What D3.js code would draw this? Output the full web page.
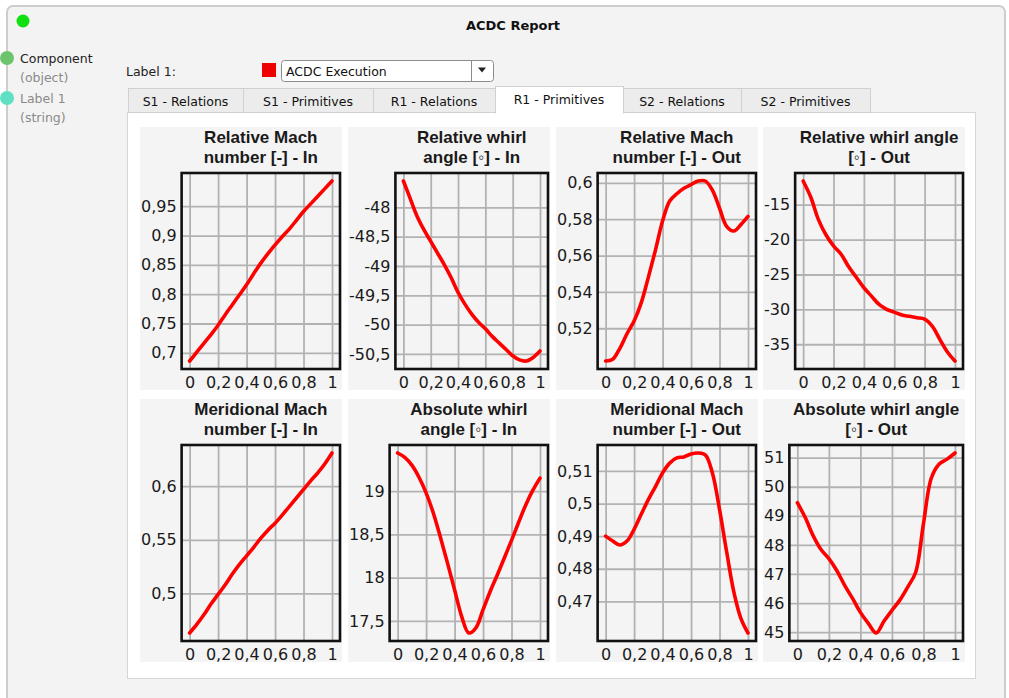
<!DOCTYPE html>
<html>
<head>
<meta charset="utf-8">
<script src="https://cdn.jsdelivr.net/npm/d3@7"></script>
<style>
  body { margin: 0; background: #fff; }
  svg { display: block; }
</style>
</head>
<body>
<div id="chart"></div>
<script>
// sample positions along the span (0 = hub, 1 = tip)
const xPos = [0, 0.05, 0.1, 0.15, 0.2, 0.25, 0.3, 0.35, 0.4, 0.45, 0.5,
              0.55, 0.6, 0.65, 0.7, 0.75, 0.8, 0.85, 0.9, 0.95, 1];
const xTicks = [0, 0.2, 0.4, 0.6, 0.8, 1];

// series values
const relMachIn = [0.686, 0.701, 0.716, 0.731, 0.747, 0.765, 0.782, 0.799, 0.816, 0.835, 0.853,
                   0.869, 0.884, 0.898, 0.911, 0.926, 0.941, 0.954, 0.967, 0.98, 0.993];
const relWhirlIn = [-47.55, -47.85, -48.15, -48.38, -48.58, -48.78, -48.98, -49.2, -49.45, -49.65, -49.82,
                    -49.96, -50.07, -50.2, -50.31, -50.42, -50.53, -50.6, -50.62, -50.56, -50.45];
const relMachOut = [0.502, 0.503, 0.509, 0.517, 0.524, 0.534, 0.548, 0.563, 0.579, 0.59, 0.594,
                    0.597, 0.599, 0.601, 0.601, 0.596, 0.586, 0.576, 0.5735, 0.577, 0.5815];
const relWhirlOut = [-11.6, -13.9, -17.1, -19.3, -20.9, -22.1, -23.9, -25.4, -26.9, -28.1, -29.3,
                     -30, -30.4, -30.8, -31, -31.2, -31.4, -32.4, -34.3, -36.1, -37.4];
const merMachIn = [0.463, 0.471, 0.48, 0.49, 0.499, 0.508, 0.518, 0.527, 0.535, 0.543, 0.5515,
                   0.559, 0.5655, 0.573, 0.581, 0.589, 0.597, 0.605, 0.6125, 0.621, 0.631];
const absWhirlIn = [19.44, 19.39, 19.3, 19.16, 18.98, 18.75, 18.47, 18.17, 17.86, 17.55, 17.36,
                    17.42, 17.63, 17.84, 18.03, 18.23, 18.43, 18.64, 18.84, 19.01, 19.15];
const merMachOut = [0.49, 0.4885, 0.4873, 0.4885, 0.4921, 0.4967, 0.5012, 0.5052, 0.5094, 0.5124, 0.514,
                    0.5143, 0.5152, 0.5155, 0.5149, 0.5094, 0.4982, 0.4852, 0.473, 0.4648, 0.4603];
const absWhirlOut = [49.45, 48.94, 48.32, 47.84, 47.53, 47.12, 46.61, 46.16, 45.68, 45.3, 44.97,
                     45.38, 45.75, 46.1, 46.55, 47.05, 48.73, 50.3, 50.78, 50.95, 51.16];

const titles = [
  ["Relative Mach", "number [-] - In"],
  ["Relative whirl", "angle [◦] - In"],
  ["Relative Mach", "number [-] - Out"],
  ["Relative whirl angle", "[◦] - Out"],
  ["Meridional Mach", "number [-] - In"],
  ["Absolute whirl", "angle [◦] - In"],
  ["Meridional Mach", "number [-] - Out"],
  ["Absolute whirl angle", "[◦] - Out"]
];
const yTickSets = [
  [0.7, 0.75, 0.8, 0.85, 0.9, 0.95],
  [-48, -48.5, -49, -49.5, -50, -50.5],
  [0.52, 0.54, 0.56, 0.58, 0.6],
  [-15, -20, -25, -30, -35],
  [0.5, 0.55, 0.6],
  [17.5, 18, 18.5, 19],
  [0.47, 0.48, 0.49, 0.5, 0.51],
  [45, 46, 47, 48, 49, 50, 51]
];
const seriesList = [relMachIn, relWhirlIn, relMachOut, relWhirlOut,
                    merMachIn, absWhirlIn, merMachOut, absWhirlOut];

const tabNames = ["S1 - Relations", "S1 - Primitives", "R1 - Relations",
                  "R1 - Primitives", "S2 - Relations", "S2 - Primitives"];
const activeTab = "R1 - Primitives";

const uiFont = "DejaVu Sans, Verdana, sans-serif";
const tickFont = "16px DejaVu Sans, Verdana, sans-serif";
const titleFont = "bold 17px Liberation Sans, Arial, DejaVu Sans, sans-serif";
const fmt = v => String(v).replace(".", ",");

const svg = d3.select("#chart").append("svg")
  .attr("width", 1009)
  .attr("height", 698);

// node frame
svg.append("rect")
  .attr("x", 7).attr("y", 6).attr("width", 998).attr("height", 720).attr("rx", 6)
  .attr("fill", "#f3f3f3").attr("stroke", "#cdcdcd").attr("stroke-width", 2);

svg.append("circle").attr("cx", 23).attr("cy", 21).attr("r", 6.5).attr("fill", "#10e010");
svg.append("text").attr("x", 513).attr("y", 30).attr("text-anchor", "middle")
  .style("font", "bold 13px " + uiFont).attr("fill", "#111").text("ACDC Report");

// ports on the left
svg.append("circle").attr("cx", 7).attr("cy", 58).attr("r", 7).attr("fill", "#6cc56c");
svg.append("circle").attr("cx", 7).attr("cy", 98).attr("r", 7).attr("fill", "#5fe0c3");
const portText = [
  { t: "Component", y: 63, c: "#222" },
  { t: "(object)", y: 82, c: "#8a8a8a" },
  { t: "Label 1", y: 103, c: "#8a8a8a" },
  { t: "(string)", y: 122, c: "#8a8a8a" }
];
svg.selectAll("text.port").data(portText).enter().append("text")
  .attr("class", "port")
  .attr("x", 20).attr("y", d => d.y).attr("fill", d => d.c)
  .style("font", "12.5px " + uiFont).text(d => d.t);

// label + combo box
svg.append("text").attr("x", 126).attr("y", 76).style("font", "12.5px " + uiFont)
  .attr("fill", "#222").text("Label 1:");
svg.append("rect").attr("x", 262).attr("y", 63).attr("width", 14).attr("height", 14).attr("fill", "#ee0000");
svg.append("rect").attr("x", 281.5).attr("y", 60.5).attr("width", 212).attr("height", 21).attr("rx", 3)
  .attr("fill", "#fff").attr("stroke", "#8c8c8c");
svg.append("text").attr("x", 286).attr("y", 76).style("font", "12.5px " + uiFont)
  .attr("fill", "#111").text("ACDC Execution");
svg.append("line").attr("x1", 471.5).attr("x2", 471.5).attr("y1", 61).attr("y2", 81).attr("stroke", "#8c8c8c");
svg.append("path").attr("d", "M478,67.5L486,67.5L482,72.5Z").attr("fill", "#222");

// tab bar
const tabW = [115, 130, 122, 128, 118, 129];
let tx = 128;
const tabs = tabNames.map((name, k) => {
  const tab = { name, x: tx, w: tabW[k] };
  tx += tabW[k];
  return tab;
});

// content panel
svg.append("rect").attr("x", 127.5).attr("y", 112.5).attr("width", 848).attr("height", 566)
  .attr("fill", "#fff").attr("stroke", "#d6d6d6");

const tabG = svg.append("g");
tabs.forEach(tb => {
  const on = tb.name === activeTab;
  tabG.append("rect")
    .attr("x", tb.x + 0.5).attr("y", on ? 86.5 : 88.5)
    .attr("width", tb.w).attr("height", on ? 26.5 : 24)
    .attr("fill", on ? "#fff" : "#ececec").attr("stroke", "#d0d0d0");
  tabG.append("text")
    .attr("x", tb.x + tb.w / 2).attr("y", on ? 104 : 106).attr("text-anchor", "middle")
    .style("font", "12.5px " + uiFont).attr("fill", "#111").text(tb.name);
});
const act = tabs.find(t => t.name === activeTab);
svg.append("rect").attr("x", act.x + 1).attr("y", 111).attr("width", act.w - 1).attr("height", 3).attr("fill", "#fff");

// chart panels
const panelX = [140, 348, 556, 763];
const panelY = [127, 399];
const panelW = 202, panelH = 263;

seriesList.forEach((values, i) => {
  const px = panelX[i % 4], py = panelY[Math.floor(i / 4)];
  const yTicks = yTickSets[i];
  const g = svg.append("g");

  g.append("rect").attr("x", px).attr("y", py).attr("width", panelW).attr("height", panelH)
    .attr("fill", "#f4f4f4");

  // width of the widest y label decides where the plot frame starts
  const tmp = g.append("g").style("font", tickFont);
  let maxW = 0;
  yTicks.forEach(t => {
    const n = tmp.append("text").text(fmt(t));
    maxW = Math.max(maxW, n.node().getComputedTextLength());
  });
  tmp.remove();

  const fx0 = px + 1 + maxW + 5, fx1 = px + 200;
  const fy0 = py + 46, fy1 = py + 242;

  const x = d3.scaleLinear().domain([0, 1]).range([fx0 + 8, fx1 - 8]);
  const y = d3.scaleLinear().domain(d3.extent(values)).range([fy1 - 8, fy0 + 8]);

  // title
  g.append("text").attr("x", (fx0 + fx1) / 2).attr("y", py + 16).attr("text-anchor", "middle")
    .style("font", titleFont).attr("fill", "#1a1a1a").text(titles[i][0]);
  g.append("text").attr("x", (fx0 + fx1) / 2).attr("y", py + 36).attr("text-anchor", "middle")
    .style("font", titleFont).attr("fill", "#1a1a1a").text(titles[i][1]);

  // grid
  const gridY = g.append("g").attr("transform", `translate(${fx0},0)`)
    .call(d3.axisLeft(y).tickValues(yTicks).tickSize(-(fx1 - fx0)).tickFormat(""));
  const gridX = g.append("g").attr("transform", `translate(0,${fy1})`)
    .call(d3.axisBottom(x).tickValues(xTicks).tickSize(-(fy1 - fy0)).tickFormat(""));
  [gridY, gridX].forEach(a => {
    a.select(".domain").remove();
    a.selectAll("line").attr("stroke", "#b2b2b2").attr("stroke-width", 1.8);
  });

  // tick labels
  const yAx = g.append("g").attr("transform", `translate(${fx0},0)`)
    .call(d3.axisLeft(y).tickValues(yTicks).tickFormat(fmt).tickSize(0).tickPadding(5));
  const xAx = g.append("g").attr("transform", `translate(0,${fy1})`)
    .call(d3.axisBottom(x).tickValues(xTicks).tickFormat(fmt).tickSize(0).tickPadding(7.5));
  [yAx, xAx].forEach(a => {
    a.select(".domain").remove();
    a.selectAll("text").style("font", tickFont).attr("fill", "#1a1a1a");
  });

  // data line
  g.append("path")
    .datum(values)
    .attr("fill", "none")
    .attr("stroke", "#ff0000")
    .attr("stroke-width", 3.6)
    .attr("stroke-linejoin", "round")
    .attr("stroke-linecap", "round")
    .attr("d", d3.line().x((d, k) => x(xPos[k])).y(d => y(d)).curve(d3.curveCatmullRom));

  // frame
  g.append("rect").attr("x", fx0).attr("y", fy0).attr("width", fx1 - fx0).attr("height", fy1 - fy0)
    .attr("fill", "none").attr("stroke", "#111").attr("stroke-width", 2.6);
});
</script>
</body>
</html>
